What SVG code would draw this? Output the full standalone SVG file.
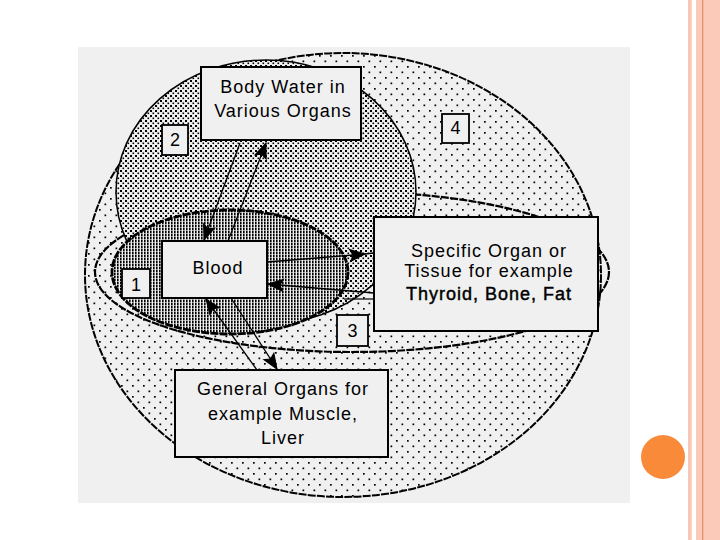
<svg xmlns="http://www.w3.org/2000/svg" width="720" height="540" viewBox="0 0 720 540">
<style>
.box{fill:#f0f0f0;stroke:#000;stroke-width:2}
.lbl{fill:#f0f0f0;stroke:#000;stroke-width:1.8}
text{font-family:"Liberation Sans",Arial,sans-serif;font-size:18px;fill:#000;letter-spacing:1px;text-anchor:middle}
.num{letter-spacing:0;font-size:18px}
.conn{stroke:#000;stroke-width:1.3;fill:none}
.rough{stroke:#000;fill:none;stroke-dasharray:8 1.2}
</style>
<defs>
<pattern id="p4" width="11" height="11" patternUnits="userSpaceOnUse">
<rect width="11" height="11" fill="#f0f0f0"/>
<rect x="0" y="0" width="1.7" height="1.7" fill="#000"/>
<rect x="5.5" y="5.5" width="1.7" height="1.7" fill="#000"/>
</pattern>
<pattern id="p2" width="5" height="5" patternUnits="userSpaceOnUse">
<rect width="5" height="5" fill="#f0f0f0"/>
<rect x="0" y="0" width="2" height="2" fill="#000"/>
<rect x="2.5" y="2.5" width="1.6" height="1.6" fill="#000"/>
</pattern>
<pattern id="p1" width="3" height="3" patternUnits="userSpaceOnUse">
<rect width="3" height="3" fill="#f0f0f0"/>
<rect x="0" y="0" width="1.6" height="2.4" fill="#000"/>
</pattern>
<marker id="ah" markerUnits="userSpaceOnUse" markerWidth="18" markerHeight="14" refX="15" refY="6" orient="auto" overflow="visible">
<path d="M0,0 L15,6 L0,12 L3,6 Z" fill="#000" stroke="#000" stroke-width="1"/>
</marker>
</defs>

<g id="slide">
<rect width="720" height="540" fill="#ffffff"/>
<rect x="688" y="0" width="3.7" height="540" fill="#f9c7b3"/>
<rect x="696" y="0" width="24" height="540" fill="#fbcab8"/>
<rect x="702" y="0" width="1.3" height="540" fill="#e5916d"/>
<circle cx="663" cy="457" r="22" fill="#f98a3a"/>
<rect x="78" y="47" width="552" height="456" fill="#f0f0f0"/>
</g>

<g id="regions">
<ellipse id="region4" cx="343" cy="275" rx="258" ry="222" class="rough" style="fill:url(#p4)" stroke-width="2"/>
<ellipse id="region3" cx="352" cy="272" rx="257" ry="80" class="rough" stroke-width="2.2"/>
<ellipse id="region2" cx="266" cy="192" rx="150" ry="132" fill="url(#p2)" stroke="#000" stroke-width="1.5"/>
<ellipse id="region1" cx="230" cy="272" rx="118" ry="62" class="rough" style="fill:url(#p1)" stroke-width="2.8"/>
<line x1="344" y1="299" x2="374" y2="299" stroke="#000" stroke-width="1.2"/>
</g>

<g id="connectors">
<path class="conn" d="M240,143 L204,240" marker-end="url(#ah)"/>
<path class="conn" d="M228,241 L266,143" marker-end="url(#ah)"/>
<path class="conn" d="M267,262 L365,254 L374,253" marker-mid="url(#ah)"/>
<path class="conn" d="M374,293 L268,284" marker-end="url(#ah)"/>
<path class="conn" d="M257,370 L206,299" marker-end="url(#ah)"/>
<path class="conn" d="M231,298 L277,369" marker-end="url(#ah)"/>
</g>

<g id="bodywater">
<rect class="box" x="201" y="67" width="160" height="73"/>
<text x="283" y="93">Body Water in</text>
<text x="283" y="117">Various Organs</text>
</g>
<g id="blood">
<rect class="box" x="162" y="241" width="105" height="57"/>
<text x="218" y="274">Blood</text>
</g>
<g id="specific">
<rect class="box" x="374" y="217" width="224" height="114"/>
<text x="489" y="257">Specific Organ or</text>
<text x="489" y="277">Tissue for example</text>
<text x="489" y="300" style="stroke:#000;stroke-width:0.45px">Thyroid, Bone, Fat</text>
</g>
<g id="general">
<rect class="box" x="175" y="370" width="213" height="87"/>
<text x="283" y="395">General Organs for</text>
<text x="283" y="420">example Muscle,</text>
<text x="283" y="444">Liver</text>
</g>
<g id="label1">
<rect class="lbl" x="122" y="269" width="28" height="29"/>
<text class="num" x="136" y="291">1</text>
</g>
<g id="label2">
<rect class="lbl" x="162" y="125" width="26" height="30"/>
<text class="num" x="175" y="146">2</text>
</g>
<g id="label3">
<rect class="lbl" x="337" y="315" width="31" height="31"/>
<text class="num" x="352.5" y="337">3</text>
</g>
<g id="label4">
<rect class="lbl" x="442" y="114" width="27" height="29"/>
<text class="num" x="455.5" y="134">4</text>
</g>
</svg>
